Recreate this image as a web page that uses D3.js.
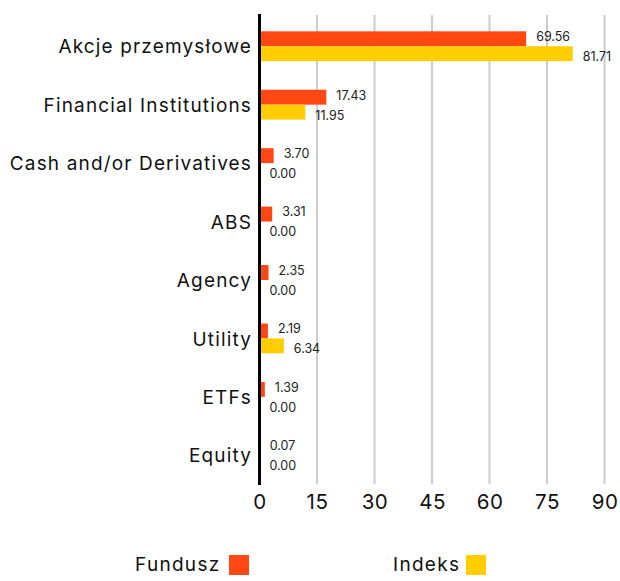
<!DOCTYPE html>
<html><head><meta charset="utf-8">
<script src="https://cdn.jsdelivr.net/npm/d3@7"></script>
<style>body{margin:0;background:#fff}svg{display:block;font-family:Inter, "Open Sans", sans-serif}</style>
</head><body>
<svg id="c" width="620" height="581"></svg>
<script>
const categories = ["Akcje przemysłowe","Financial Institutions","Cash and/or Derivatives","ABS","Agency","Utility","ETFs","Equity"];
const fundusz = [69.56,17.43,3.70,3.31,2.35,2.19,1.39,0.07];
const indeks = [81.71,11.95,0.00,0.00,0.00,6.34,0.00,0.00];
const seriesNames = ["Fundusz","Indeks"];
const tickValues = [0,15,30,45,60,75,90];
const colors = ["#ff4713","#ffcd00"];

const svg = d3.select("#c");
const x = d3.scaleLinear().domain([0,90]).range([259.5,604.5]);
const y = d3.scaleBand().domain(categories).range([17,484.5]).paddingInner(0.49).paddingOuter(0.245);
const sub = d3.scaleBand().domain(seriesNames).range([0,y.bandwidth()]);

// gridlines
svg.append("g").selectAll("line").data(tickValues.slice(1)).join("line")
  .attr("x1",d=>x(d)).attr("x2",d=>x(d)).attr("y1",15).attr("y2",484)
  .attr("stroke","#cccccc").attr("stroke-width",2);

const data = categories.map((c,i)=>({c, vals:[fundusz[i],indeks[i]]}));
const g = svg.append("g");
data.forEach(d=>{
  d.vals.forEach((v,j)=>{
    const yy = y(d.c)+sub(seriesNames[j]);
    g.append("rect").attr("x",x(0)).attr("y",yy).attr("width",Math.max(0,x(v)-x(0))).attr("height",sub.bandwidth()).attr("fill",colors[j]);
    g.append("text").attr("x",x(v)+10).attr("y",yy+sub.bandwidth()/2 + (j===0?-1:4))
      .attr("dominant-baseline","middle").attr("font-size",12.5).attr("fill","#222").text(v.toFixed(2));
  });
});

// axis line
svg.append("line").attr("x1",259.5).attr("x2",259.5).attr("y1",14).attr("y2",485).attr("stroke","#000").attr("stroke-width",3);

// category labels
svg.append("g").selectAll("text").data(categories).join("text")
  .attr("x",252).attr("y",d=>y(d)+y.bandwidth()/2+2).attr("text-anchor","end").attr("dominant-baseline","middle")
  .attr("font-size",19).attr("letter-spacing",1.15).attr("fill","#111").text(d=>d);

// tick labels
const xAxis = d3.axisBottom(x).tickValues(tickValues).tickSize(0).tickPadding(0);
const ax = svg.append("g").attr("transform","translate(0,494)").call(xAxis);
ax.select(".domain").remove();
ax.selectAll("text").attr("font-size",20.5).attr("fill","#111").attr("font-family","Inter, sans-serif").attr("letter-spacing",0.5).attr("dy","0.71em");

// legend
const leg = [{n:"Fundusz",tx:135,sx:229},{n:"Indeks",tx:393,sx:466}];
leg.forEach((l,i)=>{
  svg.append("text").attr("x",l.tx).attr("y",566).attr("dominant-baseline","middle").attr("font-size",19).attr("letter-spacing",1.3).attr("fill","#111").text(seriesNames[i]);
  svg.append("rect").attr("x",l.sx).attr("y",555).attr("width",20).attr("height",20).attr("fill",colors[i]);
});
</script>
</body></html>
